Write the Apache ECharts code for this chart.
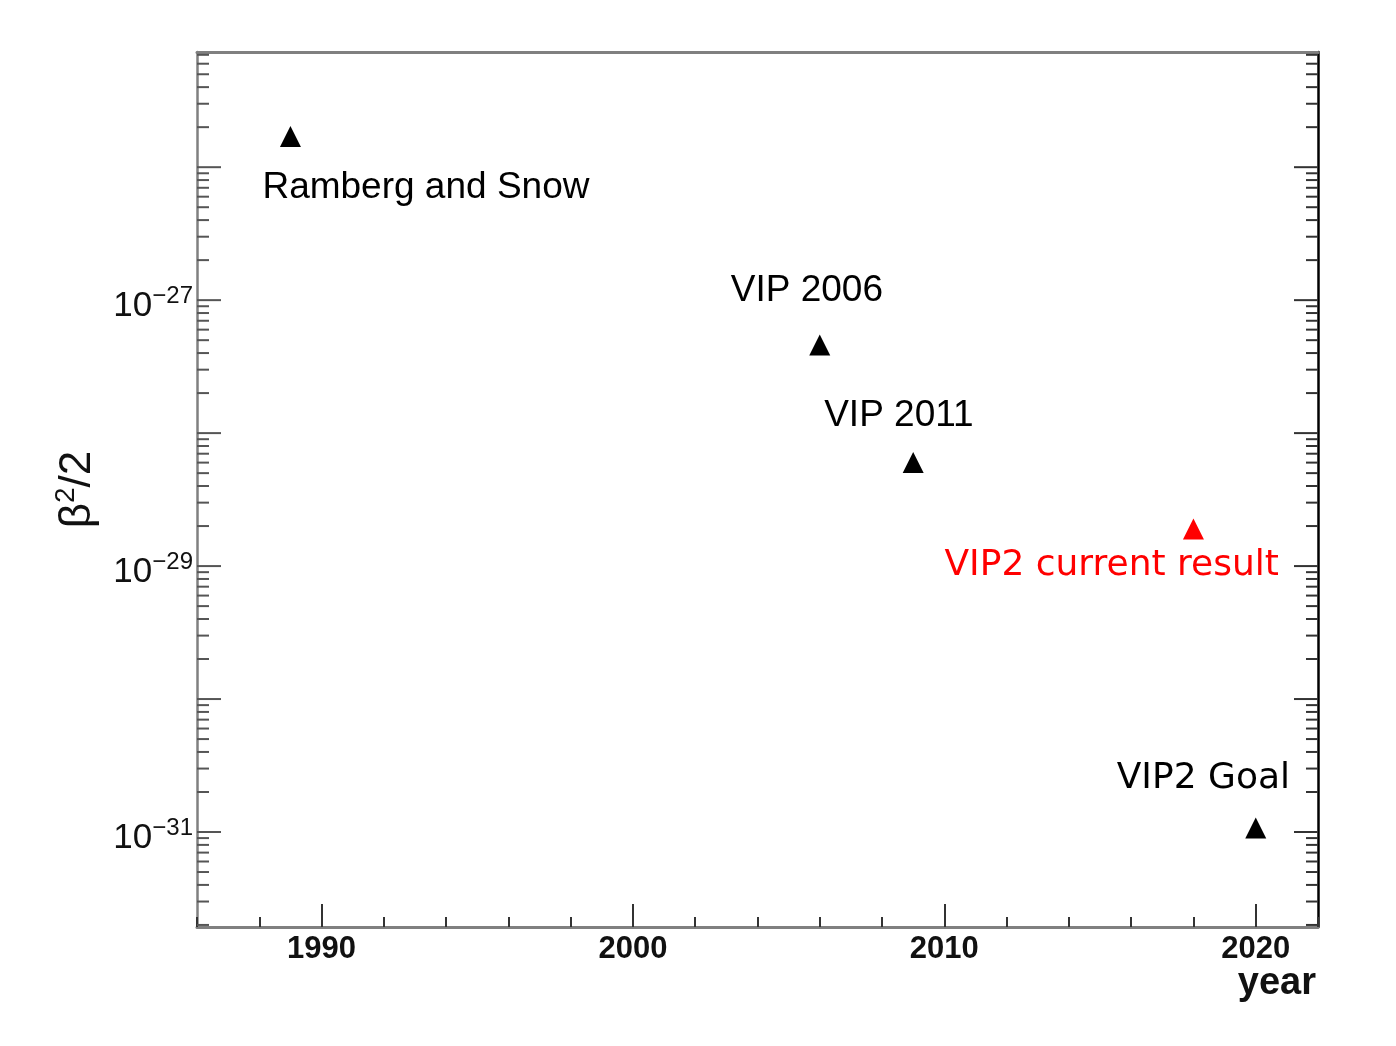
<!DOCTYPE html>
<html>
<head>
<meta charset="utf-8">
<script src="https://cdn.jsdelivr.net/npm/echarts@6/dist/echarts.min.js"></script>
<style>
  html, body { margin: 0; padding: 0; background: #ffffff; }
  #chart { width: 1396px; height: 1046px; }
</style>
</head>
<body>
<div id="chart"></div>
<script>
// ---- data ----
const experiments = ['Ramberg and Snow', 'VIP 2006', 'VIP 2011', 'VIP2 current result', 'VIP2 Goal'];
const years = [1989, 2006, 2009, 2018, 2020];
const limits = [1.7e-26, 4.6e-28, 6.0e-29, 1.9e-29, 1.07e-31];
const highlighted = [false, false, false, true, false];

// ---- axes ----
const X_MIN = 1986, X_MAX = 2022;
const Y_MIN = 1.93e-32, Y_MAX = 7.35e-26;
const xMajorTicks = [1990, 2000, 2010, 2020];
const yDecadeTicks = [1e-31, 1e-30, 1e-29, 1e-28, 1e-27, 1e-26];
const yLabelledExponents = [-27, -29, -31];
const yMinorMultipliers = [2, 3, 4, 5, 6, 7, 8, 9];

// label styling/offsets (kept apart from data)
const labelStyles = {
  'Ramberg and Snow':    { offset: [-28, 51],  font: 'Liberation Sans', size: 37, color: '#000000' },
  'VIP 2006':            { offset: [-89, -54], font: 'Liberation Sans', size: 37, color: '#000000' },
  'VIP 2011':            { offset: [-89, -47], font: 'Liberation Sans', size: 37, color: '#000000' },
  'VIP2 current result': { offset: [-249, 37], font: 'DejaVu Sans', size: 36, color: '#ff0000' },
  'VIP2 Goal':           { offset: [-139, -49], font: 'DejaVu Sans', size: 36, color: '#000000' }
};

const yMinorTicks = [];
for (let e = -32; e <= -26; e++) {
  yMinorMultipliers.forEach(m => {
    const v = m * Math.pow(10, e);
    if (v > Y_MIN && v < Y_MAX) yMinorTicks.push(v);
  });
}

function tickRenderer(len) {
  return function (params, api) {
    const v = api.value(1);
    const pL = api.coord([X_MIN, v]);
    const pR = api.coord([X_MAX, v]);
    return {
      type: 'group',
      children: [
        { type: 'line', shape: { x1: pL[0], y1: pL[1], x2: pL[0] + len, y2: pL[1] },
          style: { stroke: '#555555', lineWidth: 2 } },
        { type: 'line', shape: { x1: pR[0], y1: pR[1], x2: pR[0] - len, y2: pR[1] },
          style: { stroke: '#333333', lineWidth: 2 } }
      ]
    };
  };
}

const chart = echarts.init(document.getElementById('chart'), null, { renderer: 'canvas' });

const option = {
  animation: false,
  backgroundColor: '#ffffff',
  grid: { left: 197, top: 52, right: 78, bottom: 119, containLabel: false, outerBoundsMode: 'none' },
  xAxis: [
    {
      type: 'value', position: 'bottom', min: X_MIN, max: X_MAX,
      axisLine: { show: true, onZero: false, lineStyle: { color: '#808080', width: 3 } },
      axisTick: { show: true, inside: true, length: 23, customValues: xMajorTicks,
                  lineStyle: { color: '#333333', width: 2 } },
      axisLabel: { show: true, customValues: xMajorTicks, margin: 7,
                   formatter: function (v) { return String(Math.round(v)); },
                   fontFamily: 'Liberation Sans', fontWeight: 'bold', fontSize: 31, color: '#111111',
                   lineHeight: 31 },
      splitLine: { show: false },
      name: 'year', nameLocation: 'end', nameGap: -2, nameMoveOverlap: false,
      nameTextStyle: { fontFamily: 'Liberation Sans', fontWeight: 'bold', fontSize: 38, color: '#111111',
                       align: 'right', verticalAlign: 'top', lineHeight: 38, padding: [38, 0, 0, 0] }
    },
    {
      type: 'value', position: 'bottom', min: X_MIN, max: X_MAX, interval: 2,
      axisLine: { show: false, onZero: false },
      axisTick: { show: true, inside: true, length: 10, lineStyle: { color: '#333333', width: 2 } },
      axisLabel: { show: false },
      splitLine: { show: false }
    },
    {
      type: 'value', position: 'top', min: X_MIN, max: X_MAX,
      axisLine: { show: true, onZero: false, lineStyle: { color: '#808080', width: 3 } },
      axisTick: { show: false }, axisLabel: { show: false }, splitLine: { show: false }
    }
  ],
  yAxis: [
    {
      type: 'log', logBase: 10, position: 'left', min: Y_MIN, max: Y_MAX,
      axisLine: { show: true, onZero: false, lineStyle: { color: '#808080', width: 2.5 } },
      axisTick: { show: false },
      splitLine: { show: false },
      axisLabel: {
        show: true, margin: 4, showMinLabel: true, showMaxLabel: true,
        fontFamily: 'Liberation Sans', fontSize: 35, color: '#111111', lineHeight: 43,
        padding: [12, 0, 0, 0],
        formatter: function (v) {
          const l = Math.log10(v);
          const e = Math.round(l);
          if (Math.abs(l - e) < 1e-6 && yLabelledExponents.indexOf(e) >= 0) {
            return '10{sup|\u2212' + (-e) + '}';
          }
          return '';
        },
        rich: {
          sup: { fontFamily: 'Liberation Sans', fontSize: 24, lineHeight: 16, verticalAlign: 'top', color: '#111111' }
        }
      },
      name: '\u03b2{sup|2}/2', nameLocation: 'middle', nameRotate: 90, nameGap: 93, nameMoveOverlap: false,
      nameTextStyle: {
        fontFamily: 'Liberation Sans', fontSize: 44, lineHeight: 52, color: '#111111',
        rich: { sup: { fontFamily: 'Liberation Sans', fontSize: 28, lineHeight: 20, verticalAlign: 'top', color: '#111111' } }
      }
    },
    {
      type: 'log', logBase: 10, position: 'right', min: Y_MIN, max: Y_MAX,
      axisLine: { show: true, onZero: false, lineStyle: { color: '#000000', width: 2.5 } },
      axisTick: { show: false }, axisLabel: { show: false }, splitLine: { show: false }
    }
  ],
  series: [
    {
      type: 'custom', name: 'decadeTicks', silent: true, xAxisIndex: 0, yAxisIndex: 0,
      renderItem: tickRenderer(24),
      data: yDecadeTicks.map(v => [X_MIN, v]),
      z: 3
    },
    {
      type: 'custom', name: 'minorTicks', silent: true, xAxisIndex: 0, yAxisIndex: 0,
      renderItem: tickRenderer(12),
      data: yMinorTicks.map(v => [X_MIN, v]),
      z: 3
    },
    {
      type: 'scatter', name: 'limits', xAxisIndex: 0, yAxisIndex: 0,
      symbol: 'triangle', symbolSize: [21, 21],
      itemStyle: { opacity: 1 },
      data: experiments.map((name, i) => {
        const st = labelStyles[name];
        return {
          name: name,
          value: [years[i], limits[i]],
          itemStyle: { color: highlighted[i] ? '#ff0000' : '#000000', opacity: 1 },
          label: {
            show: true, position: 'inside', align: 'left', verticalAlign: 'middle',
            offset: st.offset, formatter: name,
            fontFamily: st.font, fontSize: st.size, color: st.color, opacity: 1
          }
        };
      }),
      z: 5
    }
  ]
};

chart.setOption(option);
</script>
</body>
</html>
